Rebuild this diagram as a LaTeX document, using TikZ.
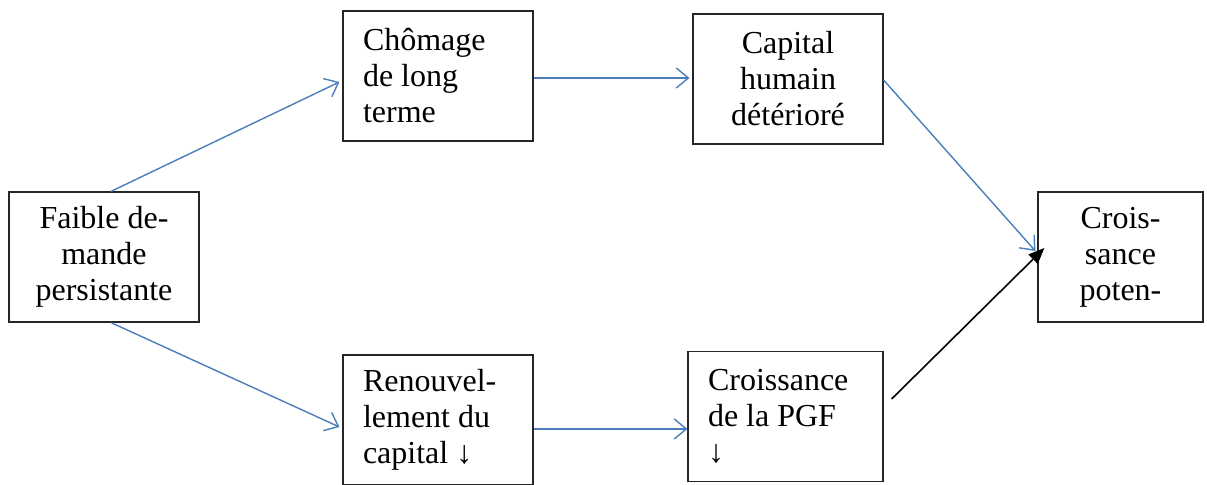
\documentclass[tikz,border=0pt]{standalone}
\usepackage{fontspec}
\setmainfont{Liberation Serif}
\usetikzlibrary{arrows.meta}
\definecolor{lineblue}{RGB}{74,126,187}

\begin{document}
\begin{tikzpicture}[x=0.5pt,y=-0.5pt,
    every node/.style={font=\fontsize{16}{18}\selectfont},
    box/.style={draw=black!85,line width=0.6pt,minimum height=65pt,
      inner xsep=10pt,inner ysep=0pt},
    blueline/.style={lineblue,line width=0.7pt,
      -{Straight Barb[length=6pt,width=10pt]}},
    blackline/.style={black,line width=0.8pt,
      -{Triangle[length=8pt,width=6.5pt]}}]
  \useasboundingbox (0,0) rectangle (1207,485);

  % boxes
  \node[box,text width=75pt,align=flush center] (faible) at (104,257)
    {Faible de-\\mande\\persistante};
  \node[box,text width=75pt,align=flush left] (chom) at (438,76)
    {Chômage\\de long\\terme};
  \node[box,text width=75pt,align=flush center] (cap) at (788,79)
    {Capital\\humain\\détérioré};
  \node[box,text width=62.5pt,align=flush center] (crois) at (1120.5,257)
    {Crois-\\sance\\poten-};
  \node[box,text width=75pt,align=flush left] (renou) at (438,420)
    {Renouvel-\\lement du\\capital ↓};
  \node[box,text width=77.5pt,align=flush left] (pgf) at (785.5,416.5)
    {Croissance\\de la PGF\\↓};

  % arrows
  \draw[blueline] ([xshift=3.5pt]faible.north) -- ([xshift=-1.5pt,yshift=-3pt]chom.west);
  \draw[blueline] ([xshift=3.5pt]faible.south) -- ([xshift=-1.5pt,yshift=-3.5pt]renou.west);
  \draw[blueline] ([yshift=-1pt]chom.east) -- ([xshift=-1.5pt,yshift=-1pt]chom.east -| cap.west);
  \draw[blueline] ([yshift=-4.5pt]renou.east) -- ([yshift=-4.5pt]renou.east -| pgf.west);
  \draw[blueline] ([yshift=-0.5pt]cap.east) -- ([xshift=-1pt,yshift=3pt]crois.west);
  \draw[blackline] ([xshift=4pt,yshift=8.75pt]pgf.east) -- ([xshift=3.5pt,yshift=4.5pt]crois.west);
\end{tikzpicture}
\end{document}
